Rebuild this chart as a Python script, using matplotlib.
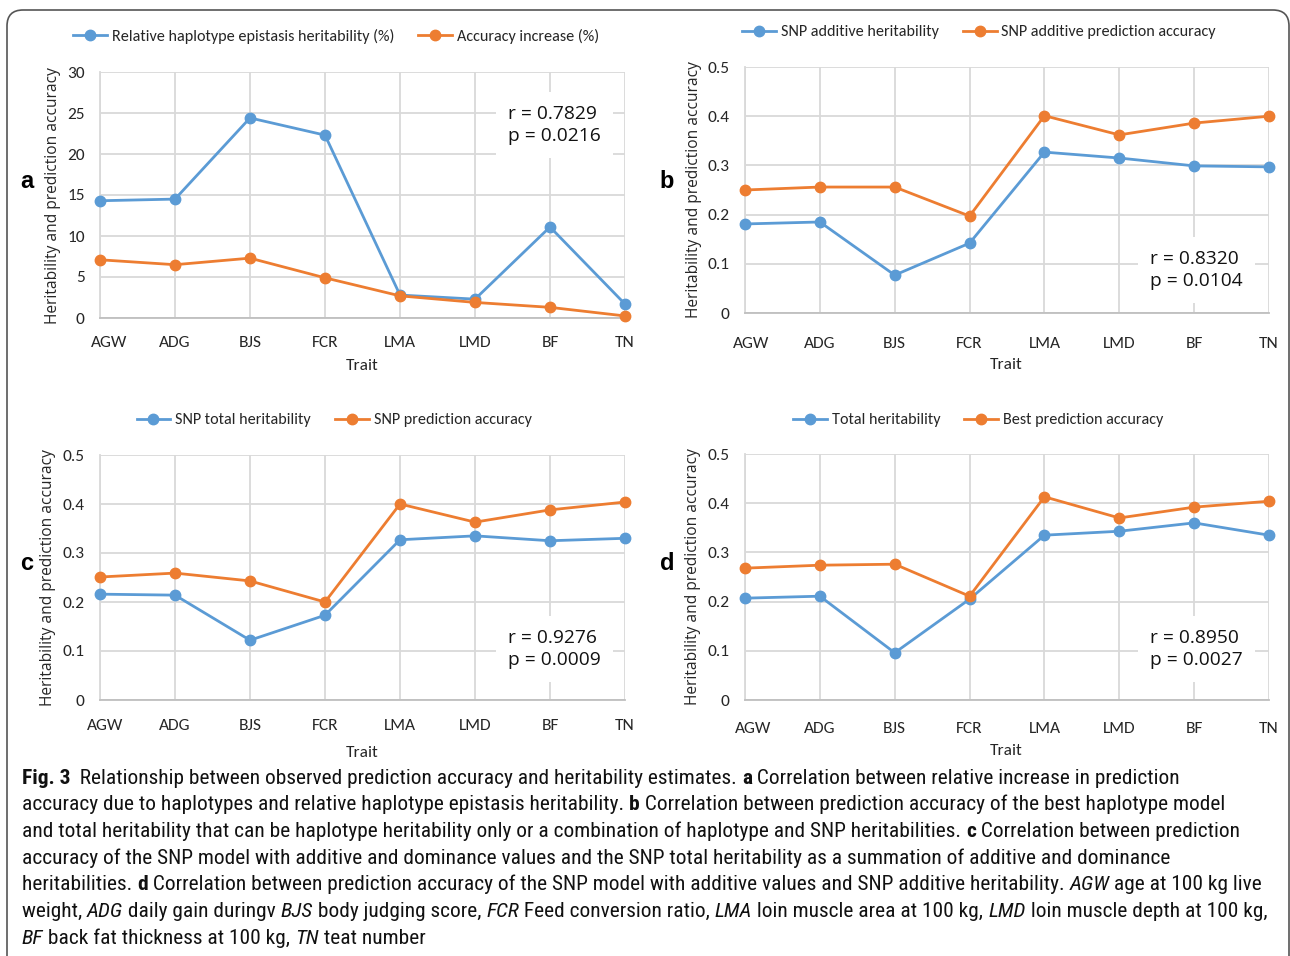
import matplotlib
matplotlib.use('Agg')
import matplotlib.pyplot as plt
from matplotlib import font_manager as fm
from matplotlib.patches import FancyBboxPatch
from matplotlib.transforms import IdentityTransform, ScaledTranslation

# ---------------- data ----------------
traits = ['AGW', 'ADG', 'BJS', 'FCR', 'LMA', 'LMD', 'BF', 'TN']

a_blue = [14.3, 14.5, 24.4, 22.3, 2.8, 2.3, 11.1, 1.7]
a_orange = [7.1, 6.5, 7.3, 4.9, 2.7, 1.9, 1.3, 0.25]
a_names = ['Relative haplotype epistasis heritability (%)', 'Accuracy increase (%)']
a_stats = 'r = 0.7829\np = 0.0216'
a_yticks = [0, 5, 10, 15, 20, 25, 30]

b_blue = [0.181, 0.185, 0.077, 0.142, 0.327, 0.315, 0.299, 0.297]
b_orange = [0.250, 0.256, 0.256, 0.197, 0.401, 0.362, 0.386, 0.400]
b_names = ['SNP additive heritability', 'SNP additive prediction accuracy']
b_stats = 'r = 0.8320\np = 0.0104'

c_blue = [0.216, 0.214, 0.122, 0.173, 0.327, 0.335, 0.325, 0.330]
c_orange = [0.251, 0.259, 0.243, 0.200, 0.400, 0.363, 0.388, 0.404]
c_names = ['SNP total heritability', 'SNP prediction accuracy']
c_stats = 'r = 0.9276\np = 0.0009'

d_blue = [0.207, 0.211, 0.096, 0.205, 0.335, 0.343, 0.360, 0.335]
d_orange = [0.268, 0.274, 0.276, 0.211, 0.413, 0.370, 0.392, 0.404]
d_names = ['Total heritability', 'Best prediction accuracy']
d_stats = 'r = 0.8950\np = 0.0027'

h_yticks = [0, 0.1, 0.2, 0.3, 0.4, 0.5]
h_yticklabels = ['0', '0.1', '0.2', '0.3', '0.4', '0.5']

ylabel_text = 'Heritability and prediction accuracy'
xlabel_text = 'Trait'

# ---------------- fonts ----------------
names = {f.name for f in fm.fontManager.ttflist}
def pick(*cands):
    for c in cands:
        if c in names:
            return c
    return 'DejaVu Sans'

CAL = pick('Carlito', 'Lato', 'Open Sans')
OS = pick('Open Sans', 'Noto Sans', 'DejaVu Sans')
CAP = pick('Liberation Sans Narrow', 'Roboto Condensed', 'Liberation Sans')
BOLD = pick('Liberation Sans', 'DejaVu Sans')

BLUE = '#5B9BD5'
ORANGE = '#ED7D31'
GRID = '#D9D9D9'
TXT = '#262626'

W, H = 1290, 956
fig = plt.figure(figsize=(W / 100, H / 100), dpi=100)


def fx(x):
    return x / W


def fy(y):
    return 1 - y / H


def panel(rect, blue, orange, series_names, yticks, yticklabels, ymax,
          stats, stats_xy, letter, letter_xy, leg_xy, xlab_xy, ylab_xy, xpad, first_shift):
    l, t, r, b = rect
    ax = fig.add_axes([fx(l), fy(b), (r - l) / W, (b - t) / H])
    x = list(range(len(traits)))
    ax.set_xlim(0, len(traits) - 1)
    ax.set_ylim(0, ymax)
    ax.set_xticks(x)
    # first category label is drawn slightly right of its tick, as in the reference
    ax.set_xticklabels([''] + traits[1:], family=CAL, fontsize=12.5, color=TXT)
    ax.text(x[0], 0, traits[0], family=CAL, fontsize=12.5, color=TXT, ha='center', va='top',
            transform=ax.get_xaxis_transform() +
            ScaledTranslation(first_shift / 100, -xpad / 72, fig.dpi_scale_trans))
    ax.set_yticks(yticks)
    ax.set_yticklabels(yticklabels, family=CAL, fontsize=12.5, color=TXT)
    ax.tick_params(axis='x', length=0, pad=xpad)
    ax.tick_params(axis='y', length=0, pad=11)
    ax.grid(True, color=GRID, lw=1.3)
    ax.set_axisbelow(True)
    for s in ['top', 'right']:
        ax.spines[s].set_visible(False)
    ax.spines['left'].set_color(GRID)
    ax.spines['left'].set_linewidth(1.3)
    ax.spines['bottom'].set_color('#BFBFBF')
    ax.spines['bottom'].set_linewidth(1.3)
    l1, = ax.plot(x, blue, color=BLUE, lw=2.0, marker='o', ms=7.5, clip_on=False, zorder=3)
    l2, = ax.plot(x, orange, color=ORANGE, lw=2.0, marker='o', ms=7.5, clip_on=False, zorder=3)
    # legend
    ax.legend([l1, l2], series_names, loc='center', ncol=2, frameon=False,
              bbox_to_anchor=(fx(leg_xy[0]), fy(leg_xy[1])), bbox_transform=fig.transFigure,
              prop={'family': CAL, 'size': 11.6}, handlelength=2.1, handletextpad=0.3,
              columnspacing=1.5, labelcolor=TXT)
    # stats box
    fig.text(fx(stats_xy[0]), fy(stats_xy[1]), stats, family=OS, fontsize=13.8, color='#111111',
             ha='left', va='center', linespacing=1.35,
             bbox=dict(boxstyle='square,pad=0.65', fc='white', ec='none'))
    # panel letter
    fig.text(fx(letter_xy[0]), fy(letter_xy[1]), letter, family=BOLD, fontweight='bold',
             fontsize=17, ha='center', va='center', color='black')
    fig.text(fx(xlab_xy[0]), fy(xlab_xy[1]), xlabel_text, family=CAL, fontsize=12.5,
             ha='center', va='center', color=TXT)
    fig.text(fx(ylab_xy[0]), fy(ylab_xy[1]), ylabel_text, family=OS, fontsize=11.2,
             ha='center', va='center', rotation=90, color=TXT)
    return ax


panel((100, 72, 625, 318), a_blue, a_orange, a_names, a_yticks, [str(v) for v in a_yticks], 30,
      a_stats, (508, 125), 'a', (27, 182), (336, 36), (362, 366), (53, 196), 13, 9)
panel((745, 67, 1269, 313), b_blue, b_orange, b_names, h_yticks, h_yticklabels, 0.5,
      b_stats, (1150, 270), 'b', (667, 182), (979, 32), (1006, 365), (694, 190), 17, 6)
panel((100, 455, 625, 700), c_blue, c_orange, c_names, h_yticks, h_yticklabels, 0.5,
      c_stats, (508, 649), 'c', (27, 563), (334, 420), (362, 753), (48, 578), 14, 5)
panel((745, 454, 1269, 700), d_blue, d_orange, d_names, h_yticks, h_yticklabels, 0.5,
      d_stats, (1150, 649), 'd', (667, 563), (978, 420), (1006, 751), (693, 577), 15.5, 8)

# ---------------- border ----------------
border = FancyBboxPatch((7, -60), 1282, H - 10 + 60, boxstyle='round,pad=0,rounding_size=16',
                        transform=IdentityTransform(), fill=False, ec='#555555', lw=1.2)
fig.add_artist(border)

# ---------------- caption ----------------
caption = [
    [('Fig. 3', 'b'), ('  Relationship between observed prediction accuracy and heritability estimates. ', 'n'),
     ('a', 'b'), (' Correlation between relative increase in prediction', 'n')],
    [('accuracy due to haplotypes and relative haplotype epistasis heritability. ', 'n'), ('b', 'b'),
     (' Correlation between prediction accuracy of the best haplotype model', 'n')],
    [('and total heritability that can be haplotype heritability only or a combination of haplotype and SNP heritabilities. ', 'n'),
     ('c', 'b'), (' Correlation between prediction', 'n')],
    [('accuracy of the SNP model with additive and dominance values and the SNP total heritability as a summation of additive and dominance', 'n')],
    [('heritabilities. ', 'n'), ('d', 'b'),
     (' Correlation between prediction accuracy of the SNP model with additive values and SNP additive heritability. ', 'n'),
     ('AGW', 'i'), (' age at 100 kg live', 'n')],
    [('weight, ', 'n'), ('ADG', 'i'), (' daily gain duringv ', 'n'), ('BJS', 'i'), (' body judging score, ', 'n'),
     ('FCR', 'i'), (' Feed conversion ratio, ', 'n'), ('LMA', 'i'), (' loin muscle area at 100 kg, ', 'n'),
     ('LMD', 'i'), (' loin muscle depth at 100 kg,', 'n')],
    [('BF', 'i'), (' back fat thickness at 100 kg, ', 'n'), ('TN', 'i'), (' teat number', 'n')],
]
line_y = [778, 804, 831, 858, 884, 911, 938]

renderer = fig.canvas.get_renderer()


def seg_width(txt, style, size):
    kw = dict(family=CAP, fontsize=size,
              fontweight='bold' if style == 'b' else 'normal',
              fontstyle='italic' if style == 'i' else 'normal')
    t1 = fig.text(0, 0, txt + 'I', **kw)
    t2 = fig.text(0, 0, 'I', **kw)
    w = t1.get_window_extent(renderer).width - t2.get_window_extent(renderer).width
    t1.remove()
    t2.remove()
    return w


def line_width(segs, size):
    return sum(seg_width(t, s, size) for t, s in segs)


base = 14.0
wref = line_width(caption[5], base)
size = base * (1274 - 22) / wref

for segs, yc in zip(caption, line_y):
    x = 22
    for txt, style in segs:
        fig.text(fx(x), fy(yc + 6), txt, family=CAP, fontsize=size,
                 fontweight='bold' if style == 'b' else 'normal',
                 fontstyle='italic' if style == 'i' else 'normal',
                 ha='left', va='baseline', color='#111111')
        x += seg_width(txt, style, size)

fig.savefig('out.png', dpi=100)
